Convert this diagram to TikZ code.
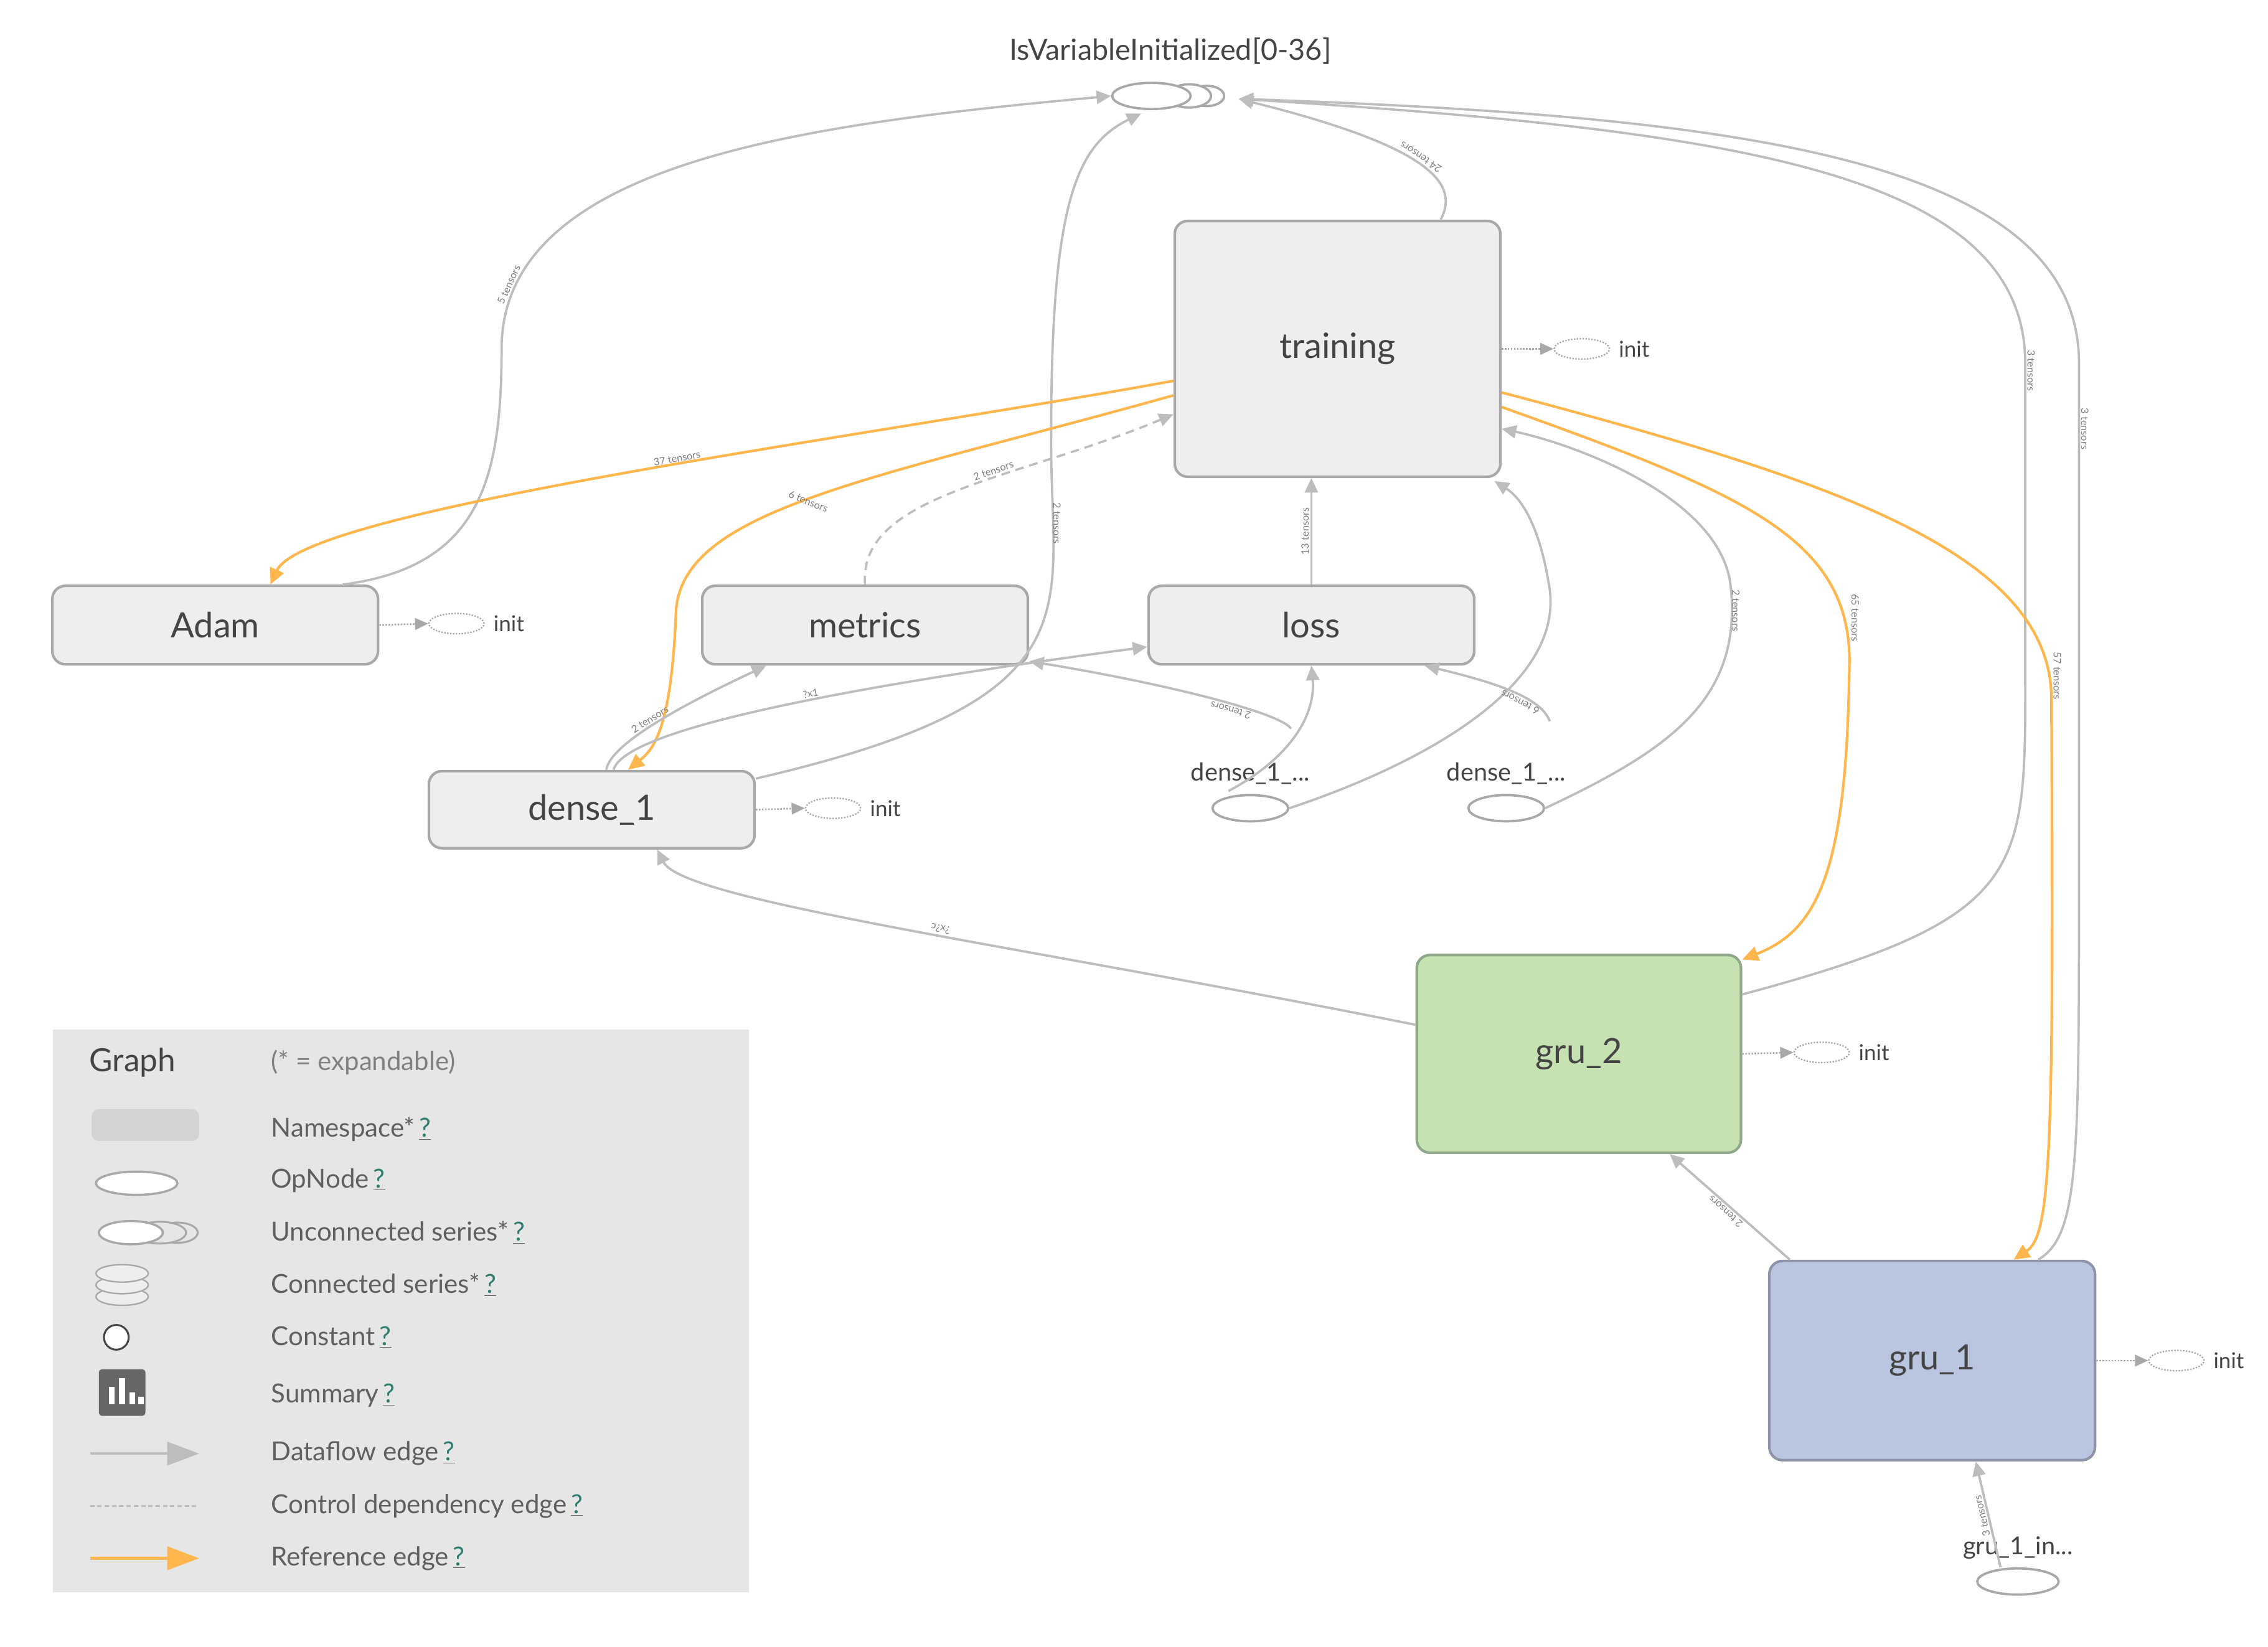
\documentclass[tikz,border=0pt]{standalone}
\usepackage{fontspec}
\setmainfont{Lato}
\usetikzlibrary{arrows.meta,shapes.geometric,calc}
\definecolor{edge}{HTML}{BDBDBD}
\definecolor{refc}{HTML}{FFB74D}
\definecolor{nsfill}{HTML}{EEEEEE}
\definecolor{nsdraw}{HTML}{A8A8A8}
\definecolor{txt}{HTML}{444444}
\definecolor{qc}{HTML}{2E7D6E}
\definecolor{g2f}{HTML}{C6E2B2}
\definecolor{g2d}{HTML}{8FA88A}
\definecolor{g1f}{HTML}{BAC5E0}
\definecolor{g1d}{HTML}{8E95A8}
\definecolor{legf}{HTML}{E6E6E6}
\tikzset{
 ns/.style={draw=nsdraw,line width=1.8pt,fill=nsfill,rounded corners=9pt,font=\fontsize{24}{26}\selectfont,text=txt,inner sep=0pt},
 op/.style={ellipse,draw=nsdraw,line width=1.6pt,minimum width=52pt,minimum height=18pt,inner sep=0pt},
 ini/.style={ellipse,draw=nsdraw,densely dotted,line width=1pt,minimum width=38pt,minimum height=14pt,inner sep=0pt},
 e/.style={draw=edge,line width=1.6pt,-{Triangle[length=10pt,width=9pt]}},
 r/.style={draw=refc,line width=1.8pt,-{Triangle[length=11pt,width=10pt]}},
 c/.style={draw=edge,line width=1.5pt,dash pattern=on 6pt off 4pt,-{Triangle[length=10pt,width=9pt]}},
 dt/.style={draw=nsdraw,densely dotted,line width=1.1pt,-{Triangle[length=9pt,width=8pt]}},
 lbl/.style={font=\fontsize{7}{8}\selectfont,text=gray,inner sep=1pt,sloped},
 lt/.style={font=\fontsize{18}{20}\selectfont,text=txt!85!white,anchor=west},
}
\newcommand{\qm}{\,\underline{\textcolor{qc}{?}}}
\begin{document}
\begin{tikzpicture}[x=1pt,y=-1pt]
\useasboundingbox (0,0) rectangle (1560,1133);
% top
\node[font=\fontsize{20}{22}\selectfont,text=txt] (ttl) at (805,35) {IsVariableInitialized[0-36]};
\node[op,minimum width=24pt,minimum height=14pt] (s3) at (830,66) {};
\node[op,minimum width=30pt,minimum height=16pt,fill=white] (s2) at (818,66) {};
\node[op,minimum width=54pt,minimum height=18pt,fill=white] (iv) at (792,66) {};
\coordinate (ivr) at (852,68);
% namespaces
\node[ns,minimum width=224pt,minimum height=176pt] (tr) at (920,240) {training};
\node[ns,minimum width=224pt,minimum height=54pt] (adam) at (148,430) {Adam};
\node[ns,minimum width=224pt,minimum height=54pt] (met) at (595,430) {metrics};
\node[ns,minimum width=224pt,minimum height=54pt] (loss) at (902,430) {loss};
\node[ns,minimum width=224pt,minimum height=53pt] (d1) at (407,557) {dense\_1};
\node[ns,minimum width=223pt,minimum height=136pt,fill=g2f,draw=g2d] (g2) at (1086,725) {gru\_2};
\node[ns,minimum width=224pt,minimum height=137pt,fill=g1f,draw=g1d] (g1) at (1329,936) {gru\_1};
% op nodes
\node[op] (da) at (860,556) {};
\node[font=\fontsize{17}{19}\selectfont,text=txt] (dal) at (860,532) {dense\_1\_...};
\node[op] (db) at (1036,556) {};
\node[font=\fontsize{17}{19}\selectfont,text=txt] (dbl) at (1036,532) {dense\_1\_...};
\node[op,minimum width=56pt] (gi) at (1388,1088) {};
\node[font=\fontsize{17}{19}\selectfont,text=txt] (gil) at (1388,1065) {gru\_1\_in...};
% inits
\foreach \n/\x/\y in {tr/1088/240,adam/314/429,d1/573/556,g2/1253/724,g1/1497/936}{
 \node[ini] (i\n) at (\x,\y) {};
 \node[font=\fontsize{15}{17}\selectfont,text=txt,anchor=west] (t\n) at (\x+22,\y) {init};
 \draw[dt] (\n.east) -- (i\n.west);
}
% edges to IsVariableInitialized
\path[e] ($(adam.north east)+(-25,0)$) .. controls (330,390) and (345,330) .. (345,240) .. controls (345,110) and (560,85) .. node[lbl,pos=0.12,above]{5 tensors} (iv.west);
\path[e] ($(d1.north east)+(0,6)$) .. controls (760,480) and (722,420) .. (723,300) .. controls (723,140) and (740,100) .. (785,78);
\node[lbl,rotate=-90] (l2t) at (727,360) {2 tensors};
\path[e] ($(tr.north east)+(-42,0)$) .. controls (1005,125) and (980,100) .. node[lbl,pos=0.5,below,rotate=180]{24 tensors} (ivr);
\path[e] ($(g2.north east)+(0,28)$) .. controls (1400,630) and (1393,600) .. (1393,450) -- (1393,250) .. controls (1393,120) and (1200,90) .. (ivr);
\node[lbl,rotate=-90] (l3a) at (1397,255) {3 tensors};
\path[e] ($(g1.north east)+(-40,0)$) .. controls (1430,850) and (1430,800) .. (1430,600) -- (1430,250) .. controls (1430,110) and (1200,80) .. (ivr);
\node[lbl,rotate=-90] (l3b) at (1434,295) {3 tensors};
% reference edges
\path[r] ($(tr.west)+(0,22)$) .. controls (600,300) and (210,350) .. node[lbl,pos=0.45,above]{37 tensors} ($(adam.north)+(38,0)$);
\path[r] ($(tr.west)+(0,32)$) .. controls (600,330) and (470,350) .. (465,420) .. controls (462,500) and (450,515) .. ($(d1.north)+(25,0)$);
\node[lbl,rotate=-22] (l6) at (556,345) {6 tensors};
\path[r] ($(tr.east)+(0,40)$) .. controls (1200,340) and (1275,370) .. (1272,460) .. controls (1270,600) and (1250,640) .. ($(g2.north east)+(0,4)$);
\node[lbl,rotate=-90] (l65) at (1276,425) {65 tensors};
\path[r] ($(tr.east)+(0,30)$) .. controls (1260,330) and (1410,380) .. (1411,480) .. controls (1413,800) and (1410,850) .. ($(g1.north)+(56,0)$);
\node[lbl,rotate=-90] (l57) at (1415,465) {57 tensors};
% control dep
\path[c] (met.north) .. controls (590,340) and (700,330) .. node[lbl,pos=0.6,above]{2 tensors} ($(tr.west)+(0,45)$);
% other dataflow
\path[e] (loss.north) -- node[lbl,above]{13 tensors} (loss.north|-tr.south);
\path[e] (da.east) .. controls (980,525) and (1080,470) .. (1065,400) .. controls (1060,370) and (1050,345) .. ($(tr.south east)+(-5,2)$);
\path[e] (db.east) .. controls (1150,515) and (1200,480) .. (1190,400) .. controls (1180,340) and (1080,305) .. ($(tr.east)+(0,55)$);
\node[lbl,rotate=-90] (l2b) at (1194,420) {2 tensors};
\path[e] ($(d1.north)+(10,0)$) .. controls (420,510) and (480,480) .. node[lbl,pos=0.45,above]{2 tensors} ($(met.south west)+(45,0)$);
\path[e] ($(d1.north)+(15,0)$) .. controls (430,500) and (600,470) .. node[lbl,pos=0.55,above]{?x1} ($(loss.west)+(0,15)$);
\path[e] ($(da.north)+(28,-45)$) .. controls (880,490) and (800,470) .. node[lbl,pos=0.4,above,rotate=180]{2 tensors} ($(met.south east)+(0,-3)$);
\path[e] ($(da.north)+(-15,-2)$) .. controls (890,520) and (905,490) .. (loss.south);
\path[e] ($(db.north)+(30,-50)$) .. controls (1060,480) and (1030,470) .. node[lbl,pos=0.4,above,rotate=180]{6 tensors} ($(loss.south east)+(-35,0)$);
\path[e] ($(g2.west)+(0,-20)$) .. controls (700,650) and (470,620) .. node[lbl,pos=0.45,below,rotate=180]{?x?c} ($(d1.south)+(45,0)$);
\path[e] ($(g1.north west)+(15,0)$) -- node[lbl,above,rotate=180]{2 tensors} ($(g2.south east)+(-50,0)$);
\path[e] ($(gi.north)+(-12,0)$) -- node[lbl,above,rotate=180]{3 tensors} ($(g1.south)+(30,0)$);
% legend
\node[fill=legf,minimum width=479pt,minimum height=387pt,inner sep=0pt,anchor=north west] (leg) at (36,708) {};
\node[font=\fontsize{22}{24}\selectfont,text=txt,anchor=west] (lg) at (58,731) {Graph};
\node[lt,text=gray] (lge) at (183,731) {(* = expandable)};
\node[fill=nsdraw!50!white,rounded corners=5pt,minimum width=74pt,minimum height=22pt,inner sep=0pt] (i1) at (100,774) {};
\node[lt] (t1) at (183,777) {Namespace*\qm};
\node[ellipse,draw=nsdraw,fill=white,line width=1.5pt,minimum width=56pt,minimum height=16pt,inner sep=0pt] (i2) at (94,814) {};
\node[lt] (t2) at (183,812) {OpNode\qm};
\node[ellipse,draw=nsdraw,line width=1.3pt,minimum width=28pt,minimum height=14pt,inner sep=0pt] (i3c) at (122,848) {};
\node[ellipse,draw=nsdraw,fill=legf,line width=1.3pt,minimum width=36pt,minimum height=15pt,inner sep=0pt] (i3b) at (110,848) {};
\node[ellipse,draw=nsdraw,fill=white,line width=1.5pt,minimum width=44pt,minimum height=16pt,inner sep=0pt] (i3) at (90,848) {};
\node[lt] (t3) at (183,848) {Unconnected series*\qm};
\foreach \yy in {892,884,876}{\draw[draw=nsdraw,fill=nsfill,line width=1pt] (84,\yy) ellipse (18pt and 6pt);}
\node[lt] (t4) at (183,884) {Connected series*\qm};
\node[circle,draw=txt,fill=white,line width=1.3pt,minimum size=17pt,inner sep=0pt] (i5) at (80,920) {};
\node[lt] (t5) at (183,920) {Constant\qm};
\node[fill=gray!80!black,rounded corners=2pt,minimum size=32pt,inner sep=0pt] (i6) at (84,958) {};
\foreach \xx/\hh in {75/12,82/18,89/8,95/5}{\fill[white] (\xx,966) rectangle ++(4,-\hh);}
\node[lt] (t6) at (183,960) {Summary\qm};
\coordinate (a1) at (62,1000); \coordinate (a2) at (137,1000);
\draw[draw=edge,line width=1.8pt,-{Triangle[length=22pt,width=16pt]}] (a1) -- (a2);
\node[lt] (t7) at (183,1000) {Dataflow edge\qm};
\coordinate (b1) at (62,1036); \coordinate (b2) at (137,1036);
\draw[draw=edge,line width=1.2pt,densely dashed] (b1) -- (b2);
\node[lt] (t8) at (183,1036) {Control dependency edge\qm};
\coordinate (c1) at (62,1072); \coordinate (c2) at (137,1072);
\draw[draw=refc,line width=2pt,-{Triangle[length=22pt,width=16pt]}] (c1) -- (c2);
\node[lt] (t9) at (183,1072) {Reference edge\qm};
\end{tikzpicture}
\end{document}
